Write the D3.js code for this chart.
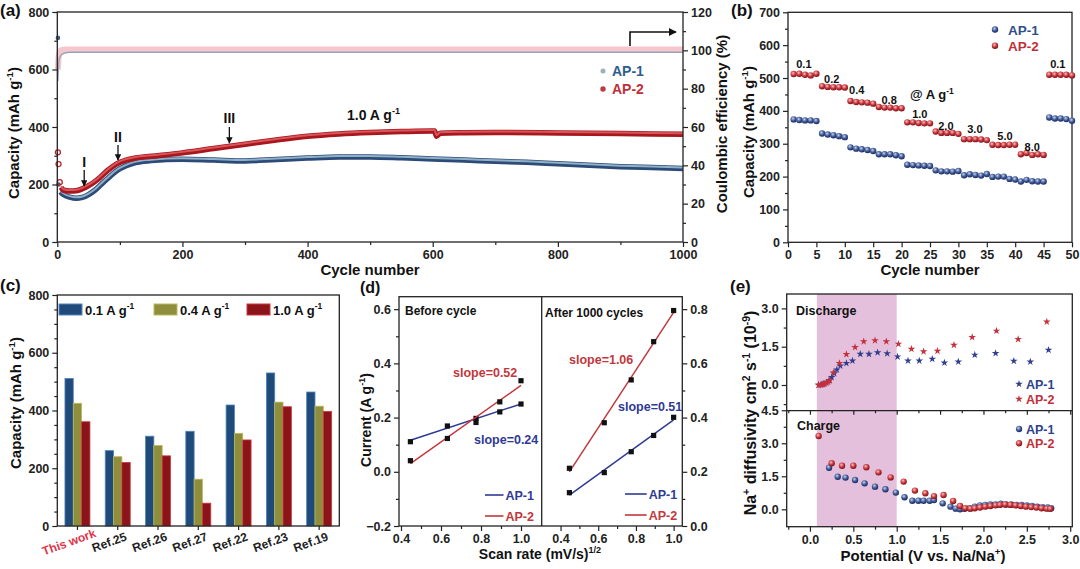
<!DOCTYPE html>
<html><head><meta charset="utf-8">
<script src="https://cdn.jsdelivr.net/npm/d3@7/dist/d3.min.js"></script>
<style>
body{margin:0;background:#fff;}
svg{display:block;font-family:"Liberation Sans",Arial,sans-serif;font-weight:bold;}
.ax path,.ax line{stroke:#222;stroke-width:1.2;}
.ax text{font-size:12.5px;font-weight:bold;fill:#222;font-family:"Liberation Sans",Arial,sans-serif;}
</style></head><body>
<svg id="c" width="1080" height="569"></svg>
<script>
// ---------- DATA ----------
// (a) long cycling at 1.0 A/g
const capCycles1 = [5,10,20,30,40,50,60,70,80,95,110,125,150,175,200,250,300,350,400,450,500,550,600,650,700,750,800,850,900,950,1000];
const capAP1     = [175,165,156,152,155,165,180,200,220,248,265,276,283,287,288,285,282,287,292,296,296,293,289,285,281,277,272,267,262,259,256];
const capCycles2 = [6,10,20,30,40,50,60,70,80,95,110,125,150,200,250,300,350,400,450,500,550,600,603,606,612,650,700,800,900,1000];
const capAP2     = [190,180,177,178,185,196,210,228,248,272,285,292,298,310,325,340,355,368,376,381,384,386,386,368,378,380,381,379,377,375];
const earlyCyc1 = [1,2], earlyAP1 = [710,200];
const earlyCyc2 = [1,2,4], earlyAP2 = [312,271,208];
const ceCycles = [1,2,3,5,8,12,20,50,1000];
const ceAP1 = [84,92,95.5,97,98,98.6,99,99,99];
const ceAP2 = [90,96,98.5,99.8,100.3,100.5,100.5,100.5,100.5];
const markLabels = ['I','II','III'];
const markCycles = [43,97,275];

// (b) rate capability
const bCycles = d3.range(1,51);
const bAP1 = [374,372,371,371,369, 331,328,326,323,320, 289,285,283,281,278, 268,268,268,265,262, 236,235,234,233,232, 219,216,216,215,217, 204,207,205,203,208, 199,200,200,193,191, 185,190,186,185,185, 380,377,377,375,370];
const bAP2 = [512,513,510,508,513, 475,473,472,472,471, 430,427,426,425,422, 412,410,410,408,408, 365,365,363,362,362, 337,333,333,333,330, 314,314,314,313,311, 297,296,296,297,297, 268,272,266,268,266, 510,510,510,510,508];
const rateLabels = ['0.1','0.2','0.4','0.8','1.0','2.0','3.0','5.0','8.0','0.1'];
const rateLabelCycle = [2.8,7.7,12.1,17.8,23.2,27.8,32.9,38.2,43,47.5];
const rateLabelCap = [532,486,451,421,377,342,333,311,279,532];

// (c) comparison
const cCats = ['This work','Ref.25','Ref.26','Ref.27','Ref.22','Ref.23','Ref.19'];
const cSeries = ['0.1 A g','0.4 A g','1.0 A g'];
const c01 = [511,261,311,328,419,530,464];
const c04 = [425,240,279,162,321,429,415];
const c10 = [361,220,243,79,298,413,397];

// (d) current vs sqrt scan rate
const dX = [0.447,0.632,0.775,0.894,1.0];
const dBeforeAP1 = [0.111,0.169,0.197,0.221,0.250];
const dBeforeAP2 = [0.041,0.123,0.182,0.258,0.336];
const dAfterAP1  = [0.123,0.197,0.274,0.334,0.401];
const dAfterAP2  = [0.213,0.381,0.539,0.680,0.795];

// (e) Na+ diffusivity
const eDisV1 = [0.10,0.13,0.16,0.19,0.22,0.25,0.28,0.31,0.35,0.42,0.49,0.58,0.68,0.78,0.89,1.01,1.13,1.26,1.41,1.55,1.71,1.90,2.14,2.35,2.54,2.75];
const eDisD1 = [0.0,0.02,0.05,0.1,0.18,0.3,0.45,0.6,0.75,0.85,0.95,1.21,1.21,1.27,1.23,1.11,0.95,0.95,1.02,0.87,0.91,1.18,1.24,0.94,0.91,1.37];
const eDisV2 = [0.10,0.12,0.14,0.15,0.17,0.19,0.21,0.23,0.27,0.34,0.42,0.52,0.62,0.75,0.88,1.02,1.17,1.31,1.47,1.66,1.87,2.15,2.40,2.73];
const eDisD2 = [0.0,0.0,0.02,0.03,0.05,0.08,0.12,0.18,0.48,0.85,1.2,1.48,1.70,1.74,1.70,1.61,1.41,1.31,1.33,1.57,1.87,2.12,1.79,2.48];
const eChgV1 = [0.22,0.32,0.41,0.52,0.63,0.75,0.87,0.99,1.09,1.18,1.25,1.31,1.38,1.43,1.53,1.62,1.68,1.73,1.78,1.84,1.90,1.96,2.02,2.08,2.14,2.20,2.26,2.32,2.38,2.44,2.50,2.56,2.62,2.68,2.74,2.78];
const eChgD1 = [1.89,1.48,1.44,1.33,1.18,1.03,0.91,0.76,0.55,0.39,0.39,0.39,0.39,0.42,0.27,0.12,0.03,0.0,0.02,0.05,0.12,0.18,0.2,0.22,0.22,0.25,0.22,0.22,0.2,0.2,0.18,0.15,0.12,0.1,0.08,0.05];
const eChgV2 = [0.10,0.25,0.37,0.50,0.65,0.79,0.93,1.08,1.21,1.33,1.43,1.54,1.65,1.73,1.79,1.85,1.90,1.96,2.02,2.08,2.14,2.19,2.25,2.31,2.37,2.43,2.49,2.55,2.61,2.67,2.73,2.77];
const eChgD2 = [3.33,2.09,1.98,1.98,1.91,1.68,1.45,1.26,0.85,0.73,0.60,0.65,0.38,0.15,0.05,0.03,0.05,0.08,0.12,0.15,0.18,0.2,0.22,0.2,0.18,0.15,0.12,0.1,0.08,0.05,0.03,0.02];

// ---------- HELPERS ----------
const svg = d3.select('#c');
const defs = svg.append('defs');
function sphereGrad(id, light, base, dark){
  const g = defs.append('radialGradient').attr('id',id).attr('cx','40%').attr('cy','35%').attr('r','65%');
  g.append('stop').attr('offset','0%').attr('stop-color',light);
  g.append('stop').attr('offset','55%').attr('stop-color',base);
  g.append('stop').attr('offset','100%').attr('stop-color',dark);
}
sphereGrad('gBlue','#c9d3ea','#3f5a99','#1d2b5c');
sphereGrad('gRed','#f6c0c0','#c9373d','#7d1318');
defs.append('marker').attr('id','arr').attr('viewBox','0 0 10 10').attr('refX',9).attr('refY',5)
  .attr('markerWidth',5).attr('markerHeight',5).attr('orient','auto')
  .append('path').attr('d','M0,0 L10,5 L0,10 z').attr('fill','#111');

function addText(g, x, y, parts, o={}){
  const fs = o.size||14;
  const t = g.append('text').attr('x',x).attr('y',y).attr('font-size',fs)
    .attr('fill',o.fill||'#111').attr('text-anchor',o.anchor||'start').attr('font-weight','bold');
  if (o.rotate) t.attr('transform',`rotate(${o.rotate},${x},${y})`);
  let shift = 0;
  (Array.isArray(parts)?parts:[parts]).forEach(p=>{
    if (Array.isArray(p)){
      const d = -fs*0.4 - shift; shift = -fs*0.4;
      t.append('tspan').attr('dy',d).attr('font-size',fs*0.65).text(p[0]);
    } else {
      const d = -shift; shift = 0;
      t.append('tspan').attr('dy',d).text(p);
    }
  });
  return t;
}
function drawAxis(orient, scale, pos, major, minor, fmt, o={}){
  const gen = {left:d3.axisLeft,right:d3.axisRight,bottom:d3.axisBottom,top:d3.axisTop}[orient];
  const tr = (orient==='left'||orient==='right') ? `translate(${pos},0)` : `translate(0,${pos})`;
  if (minor && minor.length){
    svg.append('g').attr('class','ax').attr('transform',tr)
      .call(gen(scale).tickValues(minor).tickSize(o.minorLen||3).tickSizeOuter(0).tickFormat(''))
      .call(g=>g.select('.domain').remove());
  }
  const g = svg.append('g').attr('class','ax').attr('transform',tr)
    .call(gen(scale).tickValues(major).tickSize(o.len||5).tickSizeOuter(0).tickPadding(o.pad||3).tickFormat(o.noLabel?'':(fmt||null)));
  g.select('.domain').remove();
  return g;
}
function frame(x0,y0,x1,y1){
  svg.append('rect').attr('x',x0).attr('y',y0).attr('width',x1-x0).attr('height',y1-y0)
    .attr('fill','none').attr('stroke','#222').attr('stroke-width',1.3);
}
const f0 = d3.format('d'), f1 = d3.format('.1f');
const BLUE = '#3a4f8f', RED = '#c0303a';

// ---------- PANEL A ----------
const A = {x0:57.3,x1:683,y0:12,y1:242};
const xA = d3.scaleLinear().domain([0,1000]).range([A.x0,A.x1]);
const yA = d3.scaleLinear().domain([0,800]).range([A.y1,A.y0]);
const yA2 = d3.scaleLinear().domain([0,120]).range([A.y1,A.y0]);
const ceLine = d3.line().x((d,i)=>xA(ceCycles[i])).y(d=>yA2(d)).curve(d3.curveMonotoneX);
svg.append('path').attr('d',ceLine(ceAP2)).attr('fill','none').attr('stroke','#f3bcc4').attr('stroke-width',6).attr('opacity',0.85);
svg.append('path').attr('d',ceLine(ceAP1)).attr('fill','none').attr('stroke','#9aa3b8').attr('stroke-width',1.4);

const capLine1 = d3.line().x((d,i)=>xA(capCycles1[i])).y(d=>yA(d)).curve(d3.curveMonotoneX);
const capLine2 = d3.line().x((d,i)=>xA(capCycles2[i])).y(d=>yA(d)).curve(d3.curveMonotoneX);
svg.append('path').attr('d',capLine1(capAP1)).attr('fill','none').attr('stroke','#2d4b78').attr('stroke-width',5.5);
svg.append('path').attr('d',capLine1(capAP1)).attr('fill','none').attr('stroke','#8fb0c6').attr('stroke-width',2).attr('transform','translate(0,-1)');
svg.append('path').attr('d',capLine2(capAP2)).attr('fill','none').attr('stroke','#a8161e').attr('stroke-width',5.5);
svg.append('path').attr('d',capLine2(capAP2)).attr('fill','none').attr('stroke','#d8555a').attr('stroke-width',2).attr('transform','translate(0,-1)');
svg.selectAll('.e1').data(earlyAP1).enter().append('circle').attr('cx',(d,i)=>xA(earlyCyc1[i])).attr('cy',d=>yA(d)).attr('r',2.3).attr('fill','#4a5f80');
svg.selectAll('.e2').data(earlyAP2).enter().append('circle').attr('cx',(d,i)=>xA(earlyCyc2[i])).attr('cy',d=>yA(d)).attr('r',2.5).attr('fill','none').attr('stroke','#b8262c').attr('stroke-width',1.3);

frame(A.x0,A.y0,A.x1,A.y1);
drawAxis('bottom',xA,A.y1,d3.range(0,1001,200),d3.range(100,1000,200),f0);
drawAxis('left',yA,A.x0,d3.range(0,801,200),d3.range(100,800,200),f0);
drawAxis('right',yA2,A.x1,d3.range(0,121,20),d3.range(10,120,20),f0);

const markLabelY = [167,142,123], markArrowY = [[170,186],[145,160],[127,143]];
markLabels.forEach((l,i)=>{
  const x = xA(markCycles[i]);
  addText(svg,x,markLabelY[i],l,{size:14,anchor:'middle'});
  svg.append('line').attr('x1',x).attr('x2',x).attr('y1',markArrowY[i][0]).attr('y2',markArrowY[i][1])
    .attr('stroke','#111').attr('stroke-width',1.3).attr('marker-end','url(#arr)');
});
addText(svg,347,120,['1.0 A g',['-1']],{size:14});
svg.append('path').attr('d','M630,46 L630,32 L676,32').attr('fill','none').attr('stroke','#111').attr('stroke-width',1.6).attr('marker-end','url(#arr)');
svg.append('circle').attr('cx',603).attr('cy',71).attr('r',2.5).attr('fill','#9fb0bd');
addText(svg,612,76,'AP-1',{size:14,fill:'#2f5d8c'});
svg.append('circle').attr('cx',603).attr('cy',89).attr('r',2.7).attr('fill','#c0393f');
addText(svg,612,94,'AP-2',{size:14,fill:RED});
addText(svg,19,133,['Capacity (mAh g',['-1'],')'],{size:15,anchor:'middle',rotate:-90});
addText(svg,727,124,'Coulombic efficiency (%)',{size:15,anchor:'middle',rotate:-90});
addText(svg,370,275,'Cycle number',{size:15,anchor:'middle'});
addText(svg,0,16,'(a)',{size:17});

// ---------- PANEL B ----------
const B = {x0:788,x1:1072,y0:12.3,y1:242.3};
const xB = d3.scaleLinear().domain([0,50]).range([B.x0,B.x1]);
const yB = d3.scaleLinear().domain([0,700]).range([B.y1,B.y0]);
frame(B.x0,B.y0,B.x1,B.y1);
svg.selectAll('.b1').data(bAP1).enter().append('circle').attr('cx',(d,i)=>xB(bCycles[i])).attr('cy',d=>yB(d)).attr('r',3.2).attr('fill','url(#gBlue)');
svg.selectAll('.b2').data(bAP2).enter().append('circle').attr('cx',(d,i)=>xB(bCycles[i])).attr('cy',d=>yB(d)).attr('r',3.2).attr('fill','url(#gRed)');
drawAxis('bottom',xB,B.y1,d3.range(0,51,5),[],f0);
drawAxis('left',yB,B.x0,d3.range(0,701,100),d3.range(50,700,100),f0);
rateLabels.forEach((l,i)=>addText(svg,xB(rateLabelCycle[i]),yB(rateLabelCap[i]),l,{size:11,anchor:'middle'}));
addText(svg,910,99,['@ A g',['-1']],{size:13});
svg.append('circle').attr('cx',995).attr('cy',29.5).attr('r',3.2).attr('fill','url(#gBlue)');
addText(svg,1008,34.5,'AP-1',{size:13.5,fill:'#2f4f8c'});
svg.append('circle').attr('cx',995).attr('cy',45.7).attr('r',3.2).attr('fill','url(#gRed)');
addText(svg,1008,50.7,'AP-2',{size:13.5,fill:RED});
addText(svg,754,132,['Capacity (mAh g',['-1'],')'],{size:15,anchor:'middle',rotate:-90});
addText(svg,930,275,'Cycle number',{size:15,anchor:'middle'});
addText(svg,731,16,'(b)',{size:17});

// ---------- PANEL C ----------
const C = {x0:57.3,x1:339.3,y0:295,y1:526};
const xC = d3.scaleBand().domain(cCats).range([C.x0,C.x1]).paddingInner(0.38).paddingOuter(0.19);
const xCs = d3.scaleBand().domain(cSeries).range([0,xC.bandwidth()]);
const yC = d3.scaleLinear().domain([0,800]).range([C.y1,C.y0]);
const cFill = ['#1f4a79','#8e8e3c','#8a1419'], cStroke = ['#4f86bd','#b9b95e','#d0363c'];
const cVals = [c01,c04,c10];
cVals.forEach((vals,s)=>{
  svg.selectAll('.c'+s).data(vals).enter().append('rect')
    .attr('x',(d,i)=>xC(cCats[i])+xCs(cSeries[s])).attr('width',xCs.bandwidth())
    .attr('y',d=>yC(d)).attr('height',d=>yC(0)-yC(d))
    .attr('fill',cFill[s]).attr('stroke',cStroke[s]).attr('stroke-width',0.8);
});
frame(C.x0,C.y0,C.x1,C.y1);
drawAxis('left',yC,C.x0,d3.range(0,801,200),d3.range(50,800,50).filter(v=>v%200),f0);
svg.append('g').attr('class','ax').attr('transform',`translate(0,${C.y1})`)
  .call(d3.axisBottom(xC).tickSize(4).tickSizeOuter(0).tickFormat(''))
  .call(g=>g.select('.domain').remove());
cCats.forEach((c,i)=>{
  const x = xC(c)+xC.bandwidth()/2 - 7;
  addText(svg,x,546,c,{size:12,anchor:'middle',rotate:-20,fill:i===0?'#e0334a':'#222'});
});
const legX = [59,154,247];
cSeries.forEach((s,i)=>{
  svg.append('rect').attr('x',legX[i]).attr('y',304).attr('width',23).attr('height',11).attr('fill',cFill[i]).attr('stroke',cStroke[i]).attr('stroke-width',1);
  addText(svg,legX[i]+26,314.5,[s,['-1']],{size:13});
});
addText(svg,21,403,['Capacity (mAh g',['-1'],')'],{size:15,anchor:'middle',rotate:-90});
addText(svg,0,291,'(c)',{size:17});

// ---------- PANEL D ----------
const D = {x0:399,xm:541.7,x1:682.3,y0:296.7,y1:526};
const xDL = d3.scaleLinear().domain([0.39,1.1035]).range([D.x0,D.xm]);
const xDR = d3.scaleLinear().domain([0.30,1.046]).range([D.xm,D.x1]);
const yDL = d3.scaleLinear().domain([-0.2,0.646]).range([D.y1,D.y0]);
const yDR = d3.scaleLinear().domain([0,0.846]).range([D.y1,D.y0]);
function fit(xs,ys){
  const mx=d3.mean(xs), my=d3.mean(ys);
  const b=d3.sum(xs,(x,i)=>(x-mx)*(ys[i]-my))/d3.sum(xs,x=>(x-mx)*(x-mx));
  return x=>my+b*(x-mx);
}
function dSeries(xs,ys,xS,yS,color){
  const f = fit(xs,ys);
  svg.append('line').attr('x1',xS(xs[0])).attr('x2',xS(xs[xs.length-1]))
    .attr('y1',yS(f(xs[0]))).attr('y2',yS(f(xs[xs.length-1]))).attr('stroke',color).attr('stroke-width',1.5);
  svg.selectAll(null).data(ys).enter().append('rect')
    .attr('x',(d,i)=>xS(xs[i])-2.6).attr('y',d=>yS(d)-2.6).attr('width',5.2).attr('height',5.2).attr('fill','#111');
}
const DB = '#2e3a96', DR = '#c2383c';
dSeries(dX,dBeforeAP1,xDL,yDL,DB);
dSeries(dX,dBeforeAP2,xDL,yDL,DR);
dSeries(dX,dAfterAP1,xDR,yDR,DB);
dSeries(dX,dAfterAP2,xDR,yDR,DR);
frame(D.x0,D.y0,D.x1,D.y1);
svg.append('line').attr('x1',D.xm).attr('x2',D.xm).attr('y1',D.y0).attr('y2',D.y1).attr('stroke','#222').attr('stroke-width',1.3);
drawAxis('left',yDL,D.x0,[-0.2,0,0.2,0.4,0.6],[-0.1,0.1,0.3,0.5],f1);
drawAxis('right',yDR,D.x1,[0,0.2,0.4,0.6,0.8],[0.1,0.3,0.5,0.7],f1);
drawAxis('bottom',xDL,D.y1,[0.4,0.6,0.8,1.0],[0.5,0.7,0.9],f1);
drawAxis('bottom',xDR,D.y1,[0.4,0.6,0.8,1.0],[0.5,0.7,0.9],f1);
addText(svg,405,315,'Before cycle',{size:12});
addText(svg,545,316.7,'After 1000 cycles',{size:12});
addText(svg,453,377,'slope=0.52',{size:12.5,fill:DR});
addText(svg,474,444,'slope=0.24',{size:12.5,fill:DB});
addText(svg,569,364,'slope=1.06',{size:12.5,fill:DR});
addText(svg,618,410.7,'slope=0.51',{size:12.5,fill:DB});
[[485,503.5,495,516],[625,646.7,494,515]].forEach(p=>{
  svg.append('line').attr('x1',p[0]).attr('x2',p[1]).attr('y1',p[2]).attr('y2',p[2]).attr('stroke',DB).attr('stroke-width',1.6);
  addText(svg,p[1]+2,p[2]+4.5,'AP-1',{size:12.5,fill:DB});
  svg.append('line').attr('x1',p[0]).attr('x2',p[1]).attr('y1',p[3]).attr('y2',p[3]).attr('stroke',DR).attr('stroke-width',1.6);
  addText(svg,p[1]+2,p[3]+4.5,'AP-2',{size:12.5,fill:DR});
});
addText(svg,371,420,['Current (A g',['-1'],')'],{size:14,anchor:'middle',rotate:-90});
addText(svg,540,559,['Scan rate (mV/s)',['1/2']],{size:14,anchor:'middle'});
addText(svg,360,293,'(d)',{size:16});

// ---------- PANEL E ----------
const E = {x0:786.7,x1:1072.3,y0:294,ym:410.7,y1:526.7};
const xE = d3.scaleLinear().domain([-0.268,3.024]).range([E.x0,E.x1]);
const yET = d3.scaleLinear().domain([-1.007,3.564]).range([E.ym,E.y0]);
const yEB = d3.scaleLinear().domain([-0.79,4.48]).range([E.y1,E.ym]);
svg.append('rect').attr('x',xE(0.08)).attr('width',xE(1.0)-xE(0.08)).attr('y',E.y0).attr('height',E.y1-E.y0).attr('fill','#e4c0dc');
const star = d3.symbol().type(d3.symbolStar).size(18);
const circ = (sel,vs,ds,ys,grad)=>sel.selectAll(null).data(ds).enter().append('circle')
  .attr('cx',(d,i)=>xE(vs[i])).attr('cy',d=>ys(d)).attr('r',3.2).attr('fill',grad);
const stars = (vs,ds,color)=>svg.selectAll(null).data(ds).enter().append('path').attr('d',star)
  .attr('transform',(d,i)=>`translate(${xE(vs[i])},${yET(d)})`).attr('fill',color);
stars(eDisV1,eDisD1,'#2f3f8e');
stars(eDisV2,eDisD2,'#c4303c');
circ(svg,eChgV1,eChgD1,yEB,'url(#gBlue)');
circ(svg,eChgV2,eChgD2,yEB,'url(#gRed)');
frame(E.x0,E.y0,E.x1,E.y1);
svg.append('line').attr('x1',E.x0).attr('x2',E.x1).attr('y1',E.ym).attr('y2',E.ym).attr('stroke','#222').attr('stroke-width',1.3);
drawAxis('bottom',xE,E.y1,[0,0.5,1,1.5,2,2.5,3],[-0.25,0.25,0.75,1.25,1.75,2.25,2.75],f1);
drawAxis('top',xE,E.ym,[0,0.5,1,1.5,2,2.5,3],[-0.25,0.25,0.75,1.25,1.75,2.25,2.75],f1,{noLabel:true,len:-4,minorLen:-2.5});
drawAxis('left',yET,E.x0,[0,1.5,3],[-0.75,0.75,2.25],f1);
drawAxis('left',yEB,E.x0,[0,1.5,3,4.5],[0.75,2.25,3.75],f1);
addText(svg,796,315,'Discharge',{size:12.5});
addText(svg,797,430,'Charge',{size:12.5});
svg.append('path').attr('d',star).attr('transform','translate(1019,384)').attr('fill','#2f3f8e');
addText(svg,1026,389,'AP-1',{size:12.5,fill:'#2f3f8e'});
svg.append('path').attr('d',star).attr('transform','translate(1019,399)').attr('fill','#c4303c');
addText(svg,1026,404,'AP-2',{size:12.5,fill:RED});
svg.append('circle').attr('cx',1019).attr('cy',429).attr('r',3.2).attr('fill','url(#gBlue)');
addText(svg,1026,434,'AP-1',{size:12.5,fill:'#2f3f8e'});
svg.append('circle').attr('cx',1019).attr('cy',443.3).attr('r',3.2).attr('fill','url(#gRed)');
addText(svg,1026,448.3,'AP-2',{size:12.5,fill:RED});
addText(svg,756,413,['Na',['+'],' diffusivity cm',['2'],' s',['-1'],' (10',['-9'],')'],{size:16,anchor:'middle',rotate:-90});
addText(svg,923,561,['Potential (V vs. Na/Na',['+'],')'],{size:15,anchor:'middle'});
addText(svg,730,292,'(e)',{size:17});
</script>
</body></html>
